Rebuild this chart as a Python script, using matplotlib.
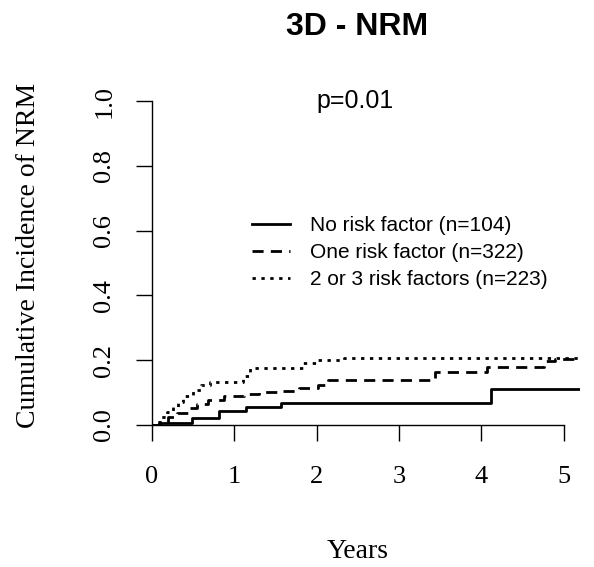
import matplotlib
matplotlib.use('Agg')
import matplotlib.pyplot as plt

# cumulative incidence of NRM, step curves (years, value)
t_none = [0, 0.08, 0.48, 0.82, 1.14, 1.57, 4.12, 5.2]
ci_none = [0, 0.007, 0.022, 0.044, 0.057, 0.067, 0.111, 0.111]

t_one = [0, 0.1, 0.2, 0.3, 0.45, 0.55, 0.68, 0.88, 1.12, 1.3, 1.58, 1.78,
         2.02, 2.14, 3.44, 4.07, 4.76, 4.9, 5.2]
ci_one = [0, 0.01, 0.025, 0.036, 0.051, 0.066, 0.078, 0.089, 0.096, 0.101,
          0.106, 0.113, 0.125, 0.138, 0.165, 0.18, 0.199, 0.204, 0.204]

t_two = [0, 0.05, 0.1, 0.18, 0.26, 0.32, 0.38, 0.5, 0.6, 0.71, 1.1, 1.19,
         1.84, 2.0, 2.33, 5.2]
ci_two = [0, 0.01, 0.025, 0.04, 0.057, 0.071, 0.088, 0.108, 0.123, 0.133,
          0.15, 0.175, 0.192, 0.2, 0.208, 0.208]

labels = ['No risk factor (n=104)', 'One risk factor (n=322)',
          '2 or 3 risk factors (n=223)']
x_ticks = [0, 1, 2, 3, 4, 5]
y_ticks = [0.0, 0.2, 0.4, 0.6, 0.8, 1.0]

serif = 'Liberation Serif'
sans = 'Liberation Sans'

fig = plt.figure(figsize=(5.94, 5.67), dpi=100)
ax = fig.add_axes([152 / 594, 1 - 425 / 567, 428 / 594, 324 / 567])

lw = 2.0
ax.plot(t_none, ci_none, drawstyle='steps-post', color='black', lw=lw,
        label=labels[0])
ax.plot(t_one, ci_one, drawstyle='steps-post', color='black', lw=lw,
        dashes=(4, 2.6), label=labels[1])
ax.plot(t_two, ci_two, drawstyle='steps-post', color='black', lw=lw,
        dashes=(1.2, 2.0), label=labels[2])

ax.set_xlim(0, 5.2)
ax.set_ylim(0, 1)
for s in ['top', 'right']:
    ax.spines[s].set_visible(False)
ax.spines['left'].set_bounds(0, 1)
ax.spines['bottom'].set_bounds(0, 5)
for s in ['left', 'bottom']:
    ax.spines[s].set_linewidth(1.0)

ax.set_xticks(x_ticks)
ax.set_xticklabels([str(v) for v in x_ticks], fontfamily=serif, fontsize=19)
ax.set_yticks(y_ticks)
ax.set_yticklabels(['%.1f' % v for v in y_ticks], fontfamily=serif,
                   fontsize=19, rotation=90, va='center')
ax.tick_params(direction='out', length=11.5, width=1.0)
ax.tick_params(axis='x', pad=18)
ax.tick_params(axis='y', pad=15)

fig.text(357 / 594, 1 - 27 / 567, '3D - NRM', fontfamily=sans,
         fontweight='bold', fontsize=23, ha='center', va='center')
fig.text(355 / 594, 1 - 101 / 567, 'p=0.01', fontfamily=sans, fontsize=18,
         ha='center', va='center')
fig.text(358 / 594, 1 - 551 / 567, 'Years', fontfamily=serif, fontsize=20,
         ha='center', va='center')
fig.text(29 / 594, 1 - 255 / 567, 'Cumulative Incidence of NRM',
         fontfamily=serif, fontsize=20, rotation=90, ha='center',
         va='center')

ax.legend(loc='upper left', bbox_to_anchor=(252 / 594, 1 - 216 / 567),
          bbox_transform=fig.transFigure, frameon=False,
          prop={'family': sans, 'size': 15}, handlelength=1.83,
          handletextpad=0.96, labelspacing=0.39, borderaxespad=0,
          borderpad=0)

fig.savefig('out.png', dpi=100)
